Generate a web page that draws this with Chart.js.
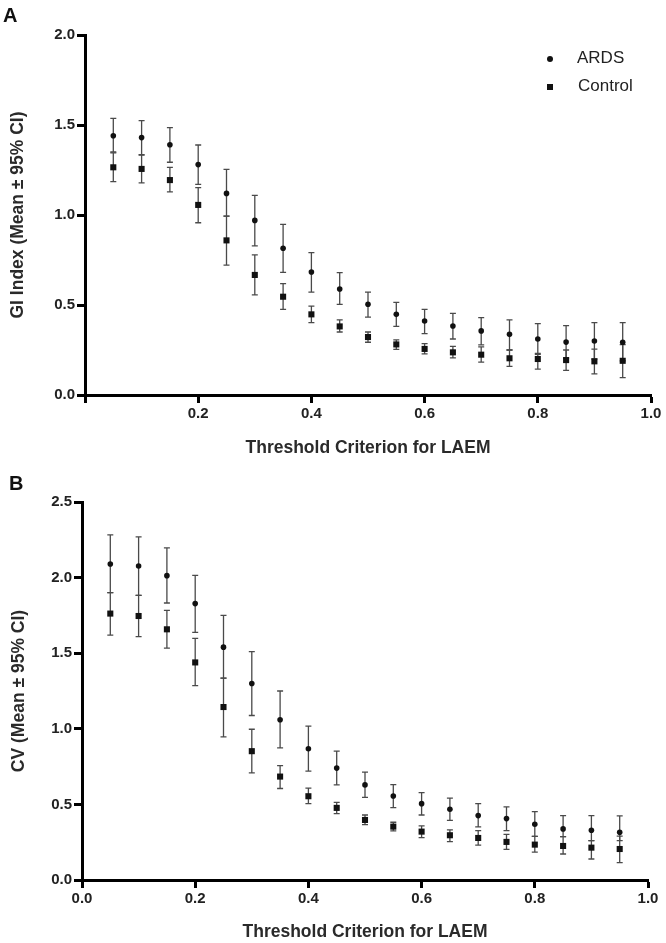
<!DOCTYPE html>
<html>
<head>
<meta charset="utf-8">
<script src="https://cdn.jsdelivr.net/npm/chart.js@4.4.1/dist/chart.umd.min.js"></script>
<style>
  body { margin: 0; background: #fff; }
  #wrap { position: relative; width: 666px; height: 943px; font-family: "Liberation Sans", Arial, sans-serif; }
  .panel { position: absolute; left: 0; width: 666px; }
  .tag { position: absolute; font-weight: bold; font-size: 20px; color: #111; }
  .leg { position: absolute; font-size: 17px; color: #222; }
  .leg i { position: absolute; background: #111; }
</style>
</head>
<body>
<div id="wrap">
  <div class="panel" style="top:0;height:471px"><canvas id="chartA"></canvas></div>
  <div class="panel" style="top:471px;height:472px"><canvas id="chartB"></canvas></div>
  <div class="tag" style="left:3px;top:4px">A</div>
  <div class="tag" style="left:9px;top:472px">B</div>
  <div class="leg" style="left:547px;top:48px"><i style="left:0;top:8px;width:6px;height:6px;border-radius:3px"></i><span style="position:absolute;left:30px;top:0">ARDS</span></div>
  <div class="leg" style="left:547px;top:76px"><i style="left:0;top:8px;width:6px;height:6px"></i><span style="position:absolute;left:31px;top:0">Control</span></div>
</div>
<script>
// threshold criterion (x values)
const thresholds = [0.05, 0.10, 0.15, 0.20, 0.25, 0.30, 0.35, 0.40, 0.45, 0.50,
                    0.55, 0.60, 0.65, 0.70, 0.75, 0.80, 0.85, 0.90, 0.95];

// Panel A - GI index
const giArdsMean = [1.44, 1.43, 1.39, 1.28, 1.12, 0.97, 0.815, 0.683, 0.589, 0.504, 0.448, 0.411, 0.383, 0.356, 0.337, 0.311, 0.294, 0.30, 0.293];
const giArdsLow  = [1.35, 1.333, 1.293, 1.17, 0.994, 0.828, 0.681, 0.572, 0.504, 0.433, 0.381, 0.341, 0.311, 0.278, 0.25, 0.226, 0.205, 0.20, 0.19];
const giArdsHigh = [1.537, 1.524, 1.485, 1.389, 1.254, 1.109, 0.948, 0.791, 0.68, 0.572, 0.515, 0.476, 0.454, 0.43, 0.417, 0.396, 0.385, 0.402, 0.402];
const giCtrlMean = [1.265, 1.256, 1.194, 1.056, 0.859, 0.667, 0.546, 0.448, 0.381, 0.322, 0.281, 0.256, 0.237, 0.224, 0.204, 0.20, 0.194, 0.187, 0.19];
const giCtrlLow  = [1.185, 1.178, 1.128, 0.957, 0.722, 0.556, 0.476, 0.402, 0.35, 0.293, 0.254, 0.228, 0.206, 0.183, 0.159, 0.144, 0.137, 0.117, 0.096];
const giCtrlHigh = [1.345, 1.335, 1.265, 1.152, 0.994, 0.778, 0.619, 0.494, 0.417, 0.35, 0.306, 0.285, 0.27, 0.267, 0.25, 0.231, 0.25, 0.255, 0.28];

// Panel B - CV
const cvArdsMean = [2.09, 2.077, 2.013, 1.828, 1.54, 1.30, 1.06, 0.868, 0.74, 0.629, 0.556, 0.505, 0.468, 0.426, 0.406, 0.369, 0.338, 0.329, 0.316];
const cvArdsLow  = [1.90, 1.883, 1.832, 1.638, 1.335, 1.088, 0.874, 0.72, 0.629, 0.547, 0.479, 0.43, 0.395, 0.351, 0.327, 0.289, 0.287, 0.26, 0.26];
const cvArdsHigh = [2.282, 2.269, 2.197, 2.015, 1.75, 1.51, 1.25, 1.018, 0.852, 0.713, 0.631, 0.578, 0.541, 0.505, 0.483, 0.452, 0.426, 0.426, 0.424];
const cvCtrlMean = [1.762, 1.746, 1.658, 1.439, 1.144, 0.852, 0.684, 0.554, 0.477, 0.397, 0.353, 0.32, 0.296, 0.278, 0.252, 0.234, 0.225, 0.214, 0.205];
const cvCtrlLow  = [1.62, 1.609, 1.534, 1.285, 0.947, 0.709, 0.605, 0.505, 0.439, 0.366, 0.325, 0.28, 0.254, 0.23, 0.203, 0.185, 0.172, 0.139, 0.115];
const cvCtrlHigh = [1.90, 1.883, 1.783, 1.598, 1.335, 0.997, 0.757, 0.607, 0.514, 0.43, 0.382, 0.358, 0.331, 0.327, 0.302, 0.289, 0.287, 0.26, 0.29];

const xTicks = [0.0, 0.2, 0.4, 0.6, 0.8, 1.0];
const yTicksA = [0.0, 0.5, 1.0, 1.5, 2.0];
const yTicksB = [0.0, 0.5, 1.0, 1.5, 2.0, 2.5];

const xTitle = 'Threshold Criterion for LAEM';

// draw 95% CI whiskers using the chart scales
const errorBars = {
    id: 'errorBars',
    beforeDatasetsDraw(chart) {
        const {ctx, scales: {x, y}} = chart;
        ctx.save();
        ctx.strokeStyle = '#4a4a4a';
        ctx.lineWidth = 1.3;
        chart.data.datasets.forEach(ds => {
            ds.data.forEach((p, i) => {
                const px = x.getPixelForValue(p.x);
                const lo = y.getPixelForValue(ds.errLow[i]);
                const hi = y.getPixelForValue(ds.errHigh[i]);
                ctx.beginPath();
                ctx.moveTo(px, lo); ctx.lineTo(px, hi);
                ctx.moveTo(px - 3, lo); ctx.lineTo(px + 3, lo);
                ctx.moveTo(px - 3, hi); ctx.lineTo(px + 3, hi);
                ctx.stroke();
            });
        });
        ctx.restore();
    }
};

function points(vals) {
    return thresholds.map((t, i) => ({x: t, y: vals[i]}));
}

function makeChart(id, cfg) {
    const ctx = document.getElementById(id).getContext('2d');
    const tickFont = {family: 'Liberation Sans', size: 15, weight: 'bold'};
    const titleFont = {family: 'Liberation Sans', size: 17.5, weight: 'bold'};
    return new Chart(ctx, {
        type: 'scatter',
        data: {
            datasets: [{
                label: 'ARDS',
                data: points(cfg.ardsMean),
                errLow: cfg.ardsLow,
                errHigh: cfg.ardsHigh,
                pointStyle: 'circle',
                pointRadius: 2.8,
                backgroundColor: '#111',
                borderColor: '#111',
                borderWidth: 0
            }, {
                label: 'Control',
                data: points(cfg.ctrlMean),
                errLow: cfg.ctrlLow,
                errHigh: cfg.ctrlHigh,
                pointStyle: 'rect',
                pointRadius: 4.3,
                backgroundColor: '#111',
                borderColor: '#111',
                borderWidth: 0
            }]
        },
        options: {
            responsive: true,
            maintainAspectRatio: false,
            animation: false,
            layout: {padding: cfg.padding},
            plugins: {legend: {display: false}, tooltip: {enabled: false}},
            scales: {
                x: {
                    type: 'linear',
                    min: 0, max: 1,
                    afterBuildTicks: s => { s.ticks = xTicks.map(v => ({value: v})); },
                    afterFit: s => { s.height = cfg.xHeight; },
                    border: {display: true, color: '#000', width: 3},
                    grid: {drawOnChartArea: false, drawTicks: true, tickLength: 8, tickWidth: 3, tickColor: '#000'},
                    ticks: {
                        font: tickFont, color: '#222', padding: 2, maxRotation: 0,
                        callback: v => (cfg.hideZero && v === 0) ? '' : v.toFixed(1)
                    },
                    title: {display: true, text: xTitle, font: titleFont, color: '#2a2a2a',
                            padding: {top: 0, bottom: cfg.xTitlePad}}
                },
                y: {
                    type: 'linear',
                    min: 0, max: cfg.yMax,
                    afterBuildTicks: s => { s.ticks = cfg.yTicks.map(v => ({value: v})); },
                    afterFit: s => { s.width = cfg.yWidth; },
                    border: {display: true, color: '#000', width: 3},
                    grid: {drawOnChartArea: false, drawTicks: true, tickLength: 8, tickWidth: 3, tickColor: '#000'},
                    ticks: {font: tickFont, color: '#222', padding: 2, callback: v => v.toFixed(1)},
                    title: {display: true, text: cfg.yTitle, font: titleFont, color: '#2a2a2a',
                            padding: {top: cfg.yTitlePad, bottom: 0}}
                }
            }
        },
        plugins: [errorBars]
    });
}

makeChart('chartA', {
    ardsMean: giArdsMean, ardsLow: giArdsLow, ardsHigh: giArdsHigh,
    ctrlMean: giCtrlMean, ctrlLow: giCtrlLow, ctrlHigh: giCtrlHigh,
    yMax: 2.0, yTicks: yTicksA, yTitle: 'GI Index (Mean ± 95% CI)',
    padding: {left: 0, right: 15, top: 35, bottom: 0},
    yWidth: 85, xHeight: 76, xTitlePad: 12, yTitlePad: 8, hideZero: true
});

makeChart('chartB', {
    ardsMean: cvArdsMean, ardsLow: cvArdsLow, ardsHigh: cvArdsHigh,
    ctrlMean: cvCtrlMean, ctrlLow: cvCtrlLow, ctrlHigh: cvCtrlHigh,
    yMax: 2.5, yTicks: yTicksB, yTitle: 'CV (Mean ± 95% CI)',
    padding: {left: 0, right: 18, top: 31, bottom: 0},
    yWidth: 82, xHeight: 63, xTitlePad: 0, yTitlePad: 9, hideZero: false
});
</script>
</body>
</html>
